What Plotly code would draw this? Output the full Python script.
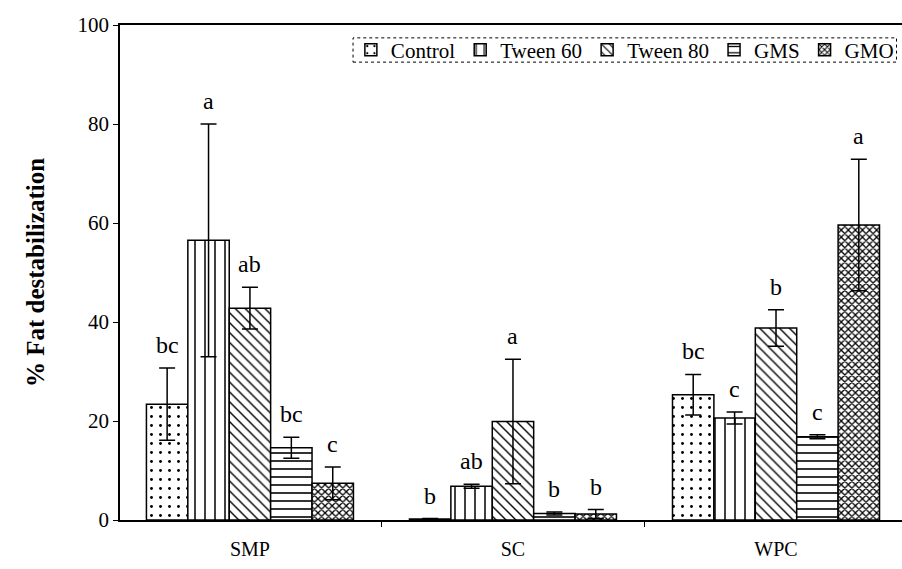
import plotly.graph_objects as go

categories = ["SMP", "SC", "WPC"]
series_names = ["Control", "Tween 60", "Tween 80", "GMS", "GMO"]

control = [23.4, 0.2, 25.3]
tween60 = [56.5, 6.8, 20.6]
tween80 = [42.8, 19.9, 38.8]
gms = [14.6, 1.3, 16.8]
gmo = [7.4, 1.2, 59.6]

control_err = [7.3, 0.1, 4.1]
tween60_err = [23.5, 0.4, 1.2]
tween80_err = [4.2, 12.6, 3.7]
gms_err = [2.1, 0.3, 0.4]
gmo_err = [3.3, 0.9, 13.3]

control_lbl = ["bc", "b", "bc"]
tween60_lbl = ["a", "ab", "c"]
tween80_lbl = ["ab", "a", "b"]
gms_lbl = ["bc", "b", "c"]
gmo_lbl = ["c", "b", "a"]

y_ticks = [0, 20, 40, 60, 80, 100]

values = [control, tween60, tween80, gms, gmo]
errors = [control_err, tween60_err, tween80_err, gms_err, gmo_err]
labels = [control_lbl, tween60_lbl, tween80_lbl, gms_lbl, gmo_lbl]
patterns = [
    dict(shape=".", size=9, solidity=0.08),
    dict(shape="|", size=10, solidity=0.15),
    dict(shape="\\", size=7, solidity=0.2),
    dict(shape="-", size=8, solidity=0.2),
    dict(shape="x", size=5, solidity=0.45),
]

FONT = "Liberation Serif"
bargap = 0.213

fig = go.Figure()
for name, v, e, p in zip(series_names, values, errors, patterns):
    fig.add_trace(go.Bar(
        name=name, x=categories, y=v,
        marker=dict(color="white",
                    line=dict(color="black", width=1.5),
                    pattern=dict(fgcolor="black", bgcolor="white",
                                 fillmode="replace", **p)),
        error_y=dict(type="data", array=e, visible=True,
                     color="black", thickness=1.5, width=8),
    ))

n = len(series_names)
bw = (1 - bargap) / n
annotations = []
for k in range(n):
    for i, cat in enumerate(categories):
        annotations.append(dict(
            x=i + (k - (n - 1) / 2) * bw, y=values[k][i] + errors[k][i],
            xref="x", yref="y", text=labels[k][i], showarrow=False,
            yanchor="middle", yshift=23,
            font=dict(family=FONT, size=24, color="black"),
        ))

fig.update_layout(
    width=902, height=569,
    margin=dict(l=120, r=0, t=25, b=49),
    paper_bgcolor="white", plot_bgcolor="white",
    barmode="group", bargap=bargap, bargroupgap=0,
    font=dict(family=FONT, size=20, color="black"),
    annotations=annotations,
    showlegend=True,
    legend=dict(orientation="h", x=0.996, xanchor="right",
                y=0.9495, yanchor="middle", bgcolor="rgba(0,0,0,0)",
                borderwidth=0, font=dict(family=FONT, size=21),
                traceorder="normal"),
    shapes=[dict(type="rect", xref="paper", yref="paper",
                 x0=0.298, x1=0.993, y0=0.925, y1=0.974,
                 line=dict(color="black", width=1, dash="dot"))],
)
fig.update_xaxes(
    range=[-0.494, 2.479], showline=True, linecolor="black", linewidth=1.5,
    mirror=True, ticks="outside", ticklen=5, tickcolor="black",
    tickson="boundaries", showgrid=False, zeroline=False,
    ticklabelstandoff=10, tickfont=dict(family=FONT, size=20),
)
fig.update_yaxes(
    range=[0, 100], tickvals=y_ticks, showline=True, linecolor="black",
    linewidth=1.5, ticks="outside", ticklen=5, tickcolor="black",
    showgrid=False, zeroline=False, tickfont=dict(family=FONT, size=21),
    title=dict(text="<b>% Fat destabilization</b>", standoff=26,
               font=dict(family=FONT, size=25)),
)

fig.write_html("out.html")
